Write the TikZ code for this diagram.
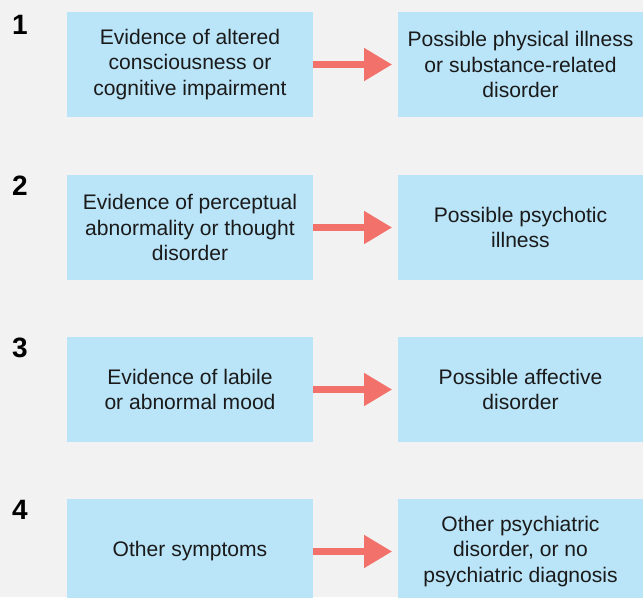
\documentclass[tikz,border=0pt]{standalone}
\usepackage{fontspec}
\setmainfont{Liberation Sans}
\usepackage{tikz}
\usetikzlibrary{arrows.meta}
\definecolor{pagegray}{HTML}{F2F2F2}
\definecolor{boxblue}{HTML}{BAE4F8}
\definecolor{arrowred}{HTML}{F2716B}
\definecolor{inkblack}{HTML}{1A1A1A}
\tikzset{
  findbox/.style={fill=boxblue, minimum width=184.5pt, minimum height=78.75pt, inner sep=0pt,
    align=center, text=inkblack, font=\fontsize{15.8}{19}\selectfont},
  stepnum/.style={text=black, font=\fontsize{21}{24}\selectfont\bfseries, inner sep=0pt},
  link/.style={draw=arrowred, line width=5.25pt, -{Triangle[length=21pt,width=23.25pt]}}
}
\begin{document}
\begin{tikzpicture}[x=0.75pt,y=0.75pt,yscale=-1,xscale=1]
  %Background and frame
  \fill[pagegray] (0,0) rectangle (643,597);
  \useasboundingbox (0,0) rectangle (643,597);
  \clip (0,0) rectangle (643,597);

  % Row 1
  \draw (20,25) node [stepnum] (n1) {1};
  \draw (190,64.5) node [findbox] (e1) {Evidence of altered\\consciousness or\\cognitive impairment};
  \draw (520.5,64.5) node [findbox] (p1) {Possible physical illness\\or substance-related\\disorder};
  \draw [link] (e1.east) -- ([xshift=-3.75pt]p1.west);

  % Row 2
  \draw (20,186) node [stepnum] (n2) {2};
  \draw (190,227.5) node [findbox] (e2) {Evidence of perceptual\\abnormality or thought\\disorder};
  \draw (520.5,227.5) node [findbox] (p2) {Possible psychotic\\illness};
  \draw [link] (e2.east) -- ([xshift=-3.75pt]p2.west);

  % Row 3
  \draw (20,348) node [stepnum] (n3) {3};
  \draw (190,389.5) node [findbox] (e3) {Evidence of labile\\or abnormal mood};
  \draw (520.5,389.5) node [findbox] (p3) {Possible affective\\disorder};
  \draw [link] (e3.east) -- ([xshift=-3.75pt]p3.west);

  % Row 4
  \draw (20,510) node [stepnum] (n4) {4};
  \draw (190,551.5) node [findbox] (e4) {Other symptoms};
  \draw (520.5,551.5) node [findbox] (p4) {Other psychiatric\\disorder, or no\\psychiatric diagnosis};
  \draw [link] (e4.east) -- ([xshift=-3.75pt]p4.west);
\end{tikzpicture}
\end{document}
